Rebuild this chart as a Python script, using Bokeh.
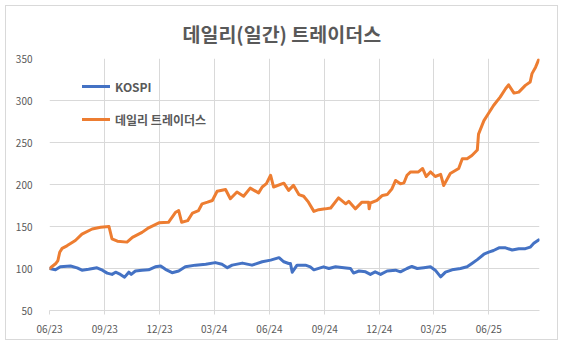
import pandas as pd
from bokeh.plotting import figure
from bokeh.models import (FixedTicker, DatetimeTickFormatter, Legend, LegendItem,
                          Range1d, ColumnDataSource)
from bokeh.embed import file_html
from bokeh.resources import INLINE

# ---------------- data ----------------
title_text = "데일리(일간) 트레이더스"
series_names = ["KOSPI", "데일리 트레이더스"]
x_tick_dates = ["2023-06-01", "2023-09-01", "2023-12-01", "2024-03-01", "2024-06-01",
                "2024-09-01", "2024-12-01", "2025-03-01", "2025-06-01"]
y_ticks = [50, 100, 150, 200, 250, 300, 350]

kospi_dates = [
    "2023-06-01", "2023-06-11", "2023-06-19", "2023-07-06", "2023-07-17", "2023-07-25",
    "2023-08-05", "2023-08-19", "2023-08-28", "2023-09-05", "2023-09-13", "2023-09-19",
    "2023-09-27", "2023-10-04", "2023-10-11", "2023-10-15", "2023-10-22", "2023-11-02",
    "2023-11-13", "2023-11-24", "2023-12-03", "2023-12-11", "2023-12-22", "2024-01-02",
    "2024-01-13", "2024-01-30", "2024-02-16", "2024-03-03", "2024-03-14", "2024-03-23",
    "2024-03-31", "2024-04-17", "2024-05-03", "2024-05-20", "2024-06-03", "2024-06-17",
    "2024-06-25", "2024-07-03", "2024-07-06", "2024-07-09", "2024-07-17", "2024-07-31",
    "2024-08-08", "2024-08-14", "2024-08-30", "2024-09-08", "2024-09-19", "2024-10-03",
    "2024-10-14", "2024-10-19", "2024-10-28", "2024-11-08", "2024-11-16", "2024-11-24",
    "2024-12-03", "2024-12-14", "2024-12-28", "2025-01-05", "2025-01-16", "2025-01-24",
    "2025-02-02", "2025-02-13", "2025-02-24", "2025-03-04", "2025-03-13", "2025-03-21",
    "2025-04-01", "2025-04-15", "2025-04-26", "2025-05-04", "2025-05-13", "2025-05-24",
    "2025-06-01", "2025-06-09", "2025-06-18", "2025-06-29", "2025-07-10", "2025-07-21",
    "2025-08-01", "2025-08-09", "2025-08-15", "2025-08-23"]
kospi_values = [
    100, 98.5, 102, 103, 100.8, 98,
    99, 100.8, 98, 94.5, 93, 95.6,
    93, 89.7, 95.6, 93, 97, 98,
    98.4, 102, 103, 99, 95, 97,
    102, 104, 105, 107, 105, 101,
    104, 106.4, 104, 108, 110, 112.9,
    108, 106, 106, 95.6, 104, 104,
    102, 98.4, 102, 100, 102, 101,
    100, 94.6, 97, 96, 93, 96,
    93, 97, 98, 96, 100, 102.4,
    100, 101, 102, 98, 90, 95.6,
    98.4, 100, 102, 106, 110.6, 117,
    119.4, 121.4, 124.6, 124.6, 122, 123.6,
    123.6, 125.4, 130, 134]

daily_dates = [
    "2023-06-01", "2023-06-11", "2023-06-15", "2023-06-18", "2023-06-22", "2023-06-30",
    "2023-07-14", "2023-07-25", "2023-08-11", "2023-08-25", "2023-09-08", "2023-09-13",
    "2023-09-22", "2023-10-08", "2023-10-17", "2023-11-02", "2023-11-13", "2023-11-30",
    "2023-12-16", "2023-12-28", "2024-01-02", "2024-01-07", "2024-01-17", "2024-01-25",
    "2024-02-04", "2024-02-10", "2024-02-19", "2024-02-27", "2024-03-06", "2024-03-20",
    "2024-03-28", "2024-04-08", "2024-04-19", "2024-04-30", "2024-05-14", "2024-05-20",
    "2024-05-27", "2024-06-03", "2024-06-08", "2024-06-25", "2024-07-03", "2024-07-11",
    "2024-07-20", "2024-07-28", "2024-08-05", "2024-08-14", "2024-08-22", "2024-09-02",
    "2024-09-11", "2024-09-24", "2024-10-06", "2024-10-11", "2024-10-22", "2024-11-02",
    "2024-11-13", "2024-11-14", "2024-11-16", "2024-11-27", "2024-12-06", "2024-12-14",
    "2024-12-22", "2024-12-28", "2025-01-05", "2025-01-11", "2025-01-16", "2025-01-22",
    "2025-01-27", "2025-02-04", "2025-02-11", "2025-02-17", "2025-02-24", "2025-03-04",
    "2025-03-13", "2025-03-18", "2025-03-29", "2025-04-12", "2025-04-18", "2025-04-26",
    "2025-05-04", "2025-05-13", "2025-05-15", "2025-05-24", "2025-05-31", "2025-06-09",
    "2025-06-20", "2025-06-29", "2025-07-04", "2025-07-13", "2025-07-21", "2025-08-01",
    "2025-08-09", "2025-08-12", "2025-08-18", "2025-08-23"]
daily_values = [
    100, 105.6, 109.5, 119.4, 124, 127,
    133.3, 141, 147, 149, 150, 135.3,
    132.5, 131.4, 137, 143, 148.4, 154.4,
    155, 167, 169, 155, 157, 166,
    169, 177, 179, 181, 192, 194,
    183, 191, 186, 195.7, 190, 197,
    201, 211, 197, 201.6, 193, 199,
    188, 186, 179, 168, 170, 171,
    172, 184, 177, 180, 171, 179,
    179, 171, 178, 181, 187, 188,
    195, 204.8, 200.8, 202, 211, 215,
    215, 215, 219, 209.5, 215, 209.5,
    212, 198.8, 213, 219, 230.6, 230.6,
    234.5, 241, 260, 276, 284, 294,
    304, 314, 318.7, 308.8, 310, 318,
    322, 332, 339.7, 348.4]

# ---------------- styling ----------------
GRID = "#d9d9d9"
TXT = "#595959"
FONT = "Noto Sans CJK KR"

x_start = pd.Timestamp("2023-06-01")
x_end = pd.Timestamp("2025-08-24 12:00")

p = figure(width=551, height=333, x_axis_type="datetime",
           x_range=Range1d(x_start, x_end), y_range=Range1d(50, 350),
           output_backend="svg", toolbar_location=None,
           min_border_left=43, min_border_right=18, min_border_top=51, min_border_bottom=29,
           background_fill_color="white", border_fill_color="white",
           styles={"margin-left": "6px", "margin-top": "6px",
                   "outline": "1px solid #d9d9d9"})
p.outline_line_color = None

p.title.text = title_text
p.title.align = "left"
p.title.offset = 133
p.title.text_font = FONT
p.title.text_font_size = "19.5px"
p.title.text_font_style = "bold"
p.title.text_color = TXT
p.title.standoff = 21

tick_ms = [pd.Timestamp(d).value // 10**6 for d in x_tick_dates]
p.xaxis.ticker = FixedTicker(ticks=tick_ms)
fmt = "%m/%y"
p.xaxis.formatter = DatetimeTickFormatter(
    milliseconds=fmt, seconds=fmt, minsec=fmt, minutes=fmt, hourmin=fmt, hours=fmt,
    days=fmt, months=fmt, years=fmt)
p.yaxis.ticker = FixedTicker(ticks=y_ticks)

for ax in (p.xaxis[0], p.yaxis[0]):
    ax.major_label_text_font = FONT
    ax.major_label_text_font_size = "10px"
    ax.major_label_text_color = TXT
    ax.minor_tick_line_color = None

p.xaxis.axis_line_color = GRID
p.xaxis.major_tick_line_color = GRID
p.xaxis.major_tick_out = 4
p.xaxis.major_tick_in = 0
p.xaxis.major_label_standoff = 6

p.yaxis.axis_line_color = None
p.yaxis.major_tick_line_color = None
p.yaxis.major_label_standoff = 11

p.xgrid.grid_line_color = GRID
p.ygrid.grid_line_color = GRID
p.xgrid.ticker = FixedTicker(ticks=tick_ms)
p.ygrid.ticker = FixedTicker(ticks=y_ticks)

src_k = ColumnDataSource(dict(x=pd.to_datetime(kospi_dates), y=kospi_values))
src_d = ColumnDataSource(dict(x=pd.to_datetime(daily_dates), y=daily_values))

r_k = p.line("x", "y", source=src_k, line_color="#4472C4", line_width=3,
             line_join="round", line_cap="round")
r_d = p.line("x", "y", source=src_d, line_color="#ED7D31", line_width=3,
             line_join="round", line_cap="round")

legend = Legend(items=[LegendItem(label=series_names[0], renderers=[r_k]),
                       LegendItem(label=series_names[1], renderers=[r_d])],
                location=(33, 181), orientation="vertical",
                padding=0, margin=0, spacing=13,
                glyph_width=28, glyph_height=20, label_height=20,
                label_standoff=5,
                label_text_font=FONT, label_text_font_size="12px",
                label_text_font_style="bold", label_text_color=TXT,
                background_fill_alpha=0, border_line_color=None)
p.add_layout(legend, "center")

open("out.html", "w").write(file_html(p, INLINE))
